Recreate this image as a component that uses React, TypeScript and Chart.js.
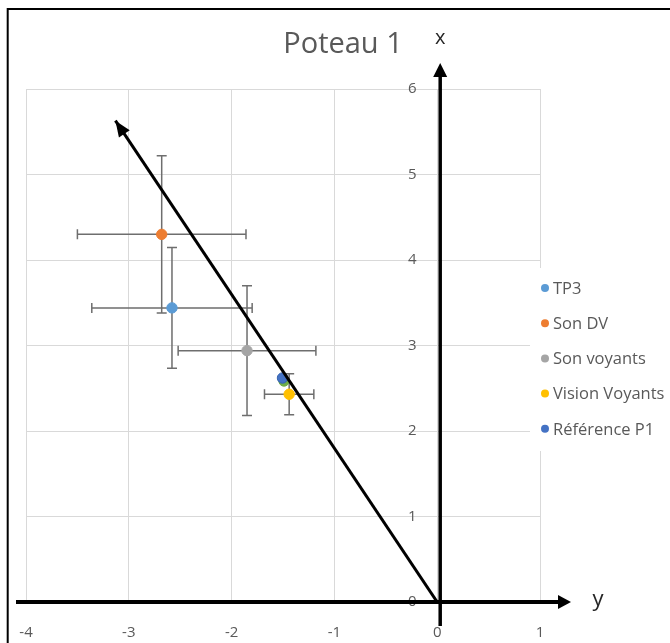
import React, { useEffect, useRef } from 'react';
import { Chart, registerables } from 'chart.js';

Chart.register(...registerables);

// ---- data ----
const chartTitle = 'Poteau 1';
const horizontalAxisName = 'y';
const verticalAxisName = 'x';

const seriesNames = ['TP3', 'Son DV', 'Son voyants', 'Vision Voyants', 'Référence P1'];
const seriesColors = ['#5B9BD5', '#ED7D31', '#A5A5A5', '#FFC000', '#4472C4'];
const xValues = [-2.58, -2.68, -1.85, -1.44, -1.505];
const yValues = [3.44, 4.3, 2.94, 2.43, 2.62];
const xErrors = [0.78, 0.82, 0.67, 0.24, 0];
const yErrors = [0.705, 0.92, 0.76, 0.24, 0];

// hidden extra series (green marker under Référence P1, not in legend)
const extraX = [-1.49];
const extraY = [2.585];
const extraColor = '#70AD47';

// direction line (arrow) from origin
const directionX = [0, -3.13];
const directionY = [0, 5.63];

const xAxisMin = -4;
const xAxisMax = 1;
const yAxisMin = 0;
const yAxisMax = 6;

const FONT = '"Open Sans", "DejaVu Sans", sans-serif';
const GREY_TEXT = '#595959';

function drawArrow(
  ctx: CanvasRenderingContext2D,
  x1: number, y1: number, x2: number, y2: number,
  width: number, headLen: number, headHalf: number, drawShaft = true
) {
  const ang = Math.atan2(y2 - y1, x2 - x1);
  const c = Math.cos(ang);
  const s = Math.sin(ang);
  const bx = x2 - headLen * c;
  const by = y2 - headLen * s;
  if (drawShaft) {
    ctx.lineWidth = width;
    ctx.beginPath();
    ctx.moveTo(x1, y1);
    ctx.lineTo(bx + c, by + s);
    ctx.stroke();
  }
  ctx.beginPath();
  ctx.moveTo(x2, y2);
  ctx.lineTo(bx + headHalf * s, by - headHalf * c);
  ctx.lineTo(bx - headHalf * s, by + headHalf * c);
  ctx.closePath();
  ctx.fill();
}

const decorations = {
  id: 'decorations',
  beforeDatasetsDraw(chart: any) {
    const ctx: CanvasRenderingContext2D = chart.ctx;
    const xs = chart.scales.x;
    const ys = chart.scales.y;
    ctx.save();
    ctx.strokeStyle = '#6e6e6e';
    ctx.lineWidth = 1.5;
    const cap = 5;
    for (let i = 0; i < xValues.length; i++) {
      const px = xs.getPixelForValue(xValues[i]);
      const py = ys.getPixelForValue(yValues[i]);
      if (xErrors[i] > 0) {
        const l = xs.getPixelForValue(xValues[i] - xErrors[i]);
        const r = xs.getPixelForValue(xValues[i] + xErrors[i]);
        ctx.beginPath();
        ctx.moveTo(l, py); ctx.lineTo(r, py);
        ctx.moveTo(l, py - cap); ctx.lineTo(l, py + cap);
        ctx.moveTo(r, py - cap); ctx.lineTo(r, py + cap);
        ctx.stroke();
      }
      if (yErrors[i] > 0) {
        const t = ys.getPixelForValue(yValues[i] + yErrors[i]);
        const b = ys.getPixelForValue(yValues[i] - yErrors[i]);
        ctx.beginPath();
        ctx.moveTo(px, t); ctx.lineTo(px, b);
        ctx.moveTo(px - cap, t); ctx.lineTo(px + cap, t);
        ctx.moveTo(px - cap, b); ctx.lineTo(px + cap, b);
        ctx.stroke();
      }
    }
    ctx.restore();
  },
  afterDraw(chart: any) {
    const ctx: CanvasRenderingContext2D = chart.ctx;
    const xs = chart.scales.x;
    const ys = chart.scales.y;
    const x0 = xs.getPixelForValue(0);
    const y0 = ys.getPixelForValue(0);
    ctx.save();

    // legend
    ctx.fillStyle = '#ffffff';
    ctx.fillRect(530, 268, 140, 183);
    ctx.font = `16.5px ${FONT}`;
    ctx.textBaseline = 'middle';
    ctx.textAlign = 'left';
    for (let i = 0; i < seriesNames.length; i++) {
      const ly = 288 + i * 35.2;
      ctx.fillStyle = seriesColors[i];
      ctx.beginPath();
      ctx.arc(545, ly, 4, 0, Math.PI * 2);
      ctx.fill();
      ctx.fillStyle = GREY_TEXT;
      ctx.fillText(seriesNames[i], 553, ly + 1);
    }

    // direction arrow head
    const meta = chart.getDatasetMeta(chart.data.datasets.length - 1);
    const p0 = meta.data[0];
    const p1 = meta.data[1];
    ctx.fillStyle = '#000';
    ctx.strokeStyle = '#000';
    drawArrow(ctx, p0.x, p0.y, p1.x, p1.y, 3, 16, 6.5, false);

    // axis arrows
    drawArrow(ctx, 16, y0, 571, y0, 4, 13, 7);
    drawArrow(ctx, x0 + 3, 626, x0 + 3, 63, 3.5, 14, 7);

    // axis names
    ctx.fillStyle = '#262626';
    ctx.textAlign = 'center';
    ctx.textBaseline = 'middle';
    ctx.font = `20px ${FONT}`;
    ctx.fillText(verticalAxisName, x0 + 3, 38);
    ctx.font = `22px ${FONT}`;
    ctx.fillText(horizontalAxisName, 598, y0 - 2);

    // title
    ctx.fillStyle = GREY_TEXT;
    ctx.font = `29px ${FONT}`;
    ctx.textBaseline = 'alphabetic';
    ctx.fillText(chartTitle, 343, 53);

    // outer frame
    ctx.strokeStyle = '#000';
    ctx.lineWidth = 2;
    ctx.beginPath();
    ctx.moveTo(7.7, 700);
    ctx.lineTo(7.7, 9);
    ctx.lineTo(700, 9);
    ctx.stroke();

    ctx.restore();
  },
};

export default function App() {
  const ref = useRef<HTMLCanvasElement>(null);

  useEffect(() => {
    if (!ref.current) return;
    const pointSets = seriesNames.map((name, i) => ({
      type: 'scatter' as const,
      label: name,
      data: [{ x: xValues[i], y: yValues[i] }],
      backgroundColor: seriesColors[i],
      borderColor: i === 4 ? '#3563b0' : seriesColors[i],
      borderWidth: 1,
      pointRadius: 5.2,
      order: 1,
    }));
    const extraSet = {
      type: 'scatter' as const,
      label: '',
      data: extraX.map((x, i) => ({ x, y: extraY[i] })),
      backgroundColor: extraColor,
      borderColor: extraColor,
      borderWidth: 1,
      pointRadius: 5.2,
      order: 2,
    };
    const lineSet = {
      type: 'line' as const,
      label: 'direction',
      data: directionX.map((x, i) => ({ x, y: directionY[i] })),
      borderColor: '#000',
      borderWidth: 3,
      pointRadius: 0,
      borderCapStyle: 'butt' as const,
      fill: false,
      order: 0,
    };
    const datasets: any[] = [...pointSets.slice().reverse(), extraSet, lineSet];

    const chart = new Chart(ref.current, {
      type: 'scatter',
      data: { datasets },
      options: {
        animation: false,
        responsive: false,
        layout: { padding: { top: 89, left: 26, right: 130, bottom: 0 } },
        plugins: {
          legend: { display: false },
          title: { display: false },
          tooltip: { enabled: false },
        },
        scales: {
          x: {
            type: 'linear',
            position: 'bottom',
            min: xAxisMin,
            max: xAxisMax,
            ticks: {
              stepSize: 1,
              color: GREY_TEXT,
              font: { family: FONT, size: 15 },
              padding: 22,
            },
            grid: { color: '#d9d9d9', lineWidth: 1, drawTicks: false },
            border: { display: false },
            afterFit: (s: any) => {
              s.height = 41;
              s.paddingLeft = 0;
              s.paddingRight = 0;
            },
          },
          y: {
            type: 'linear',
            // labels sit just left of the x = 0 line
            position: { x: -0.2 } as any,
            min: yAxisMin,
            max: yAxisMax,
            ticks: {
              stepSize: 1,
              color: GREY_TEXT,
              font: { family: FONT, size: 15 },
            },
            grid: { color: '#d9d9d9', lineWidth: 1, drawTicks: false },
            border: { display: false },
            afterFit: (s: any) => {
              s.paddingTop = 0;
              s.paddingBottom = 0;
            },
          },
        },
      },
      plugins: [decorations],
    });
    return () => chart.destroy();
  }, []);

  return (
    <div style={{ position: 'absolute', left: 0, top: 0, width: 670, height: 643, background: '#fff' }}>
      <canvas ref={ref} width={670} height={643} style={{ display: 'block' }} />
    </div>
  );
}
